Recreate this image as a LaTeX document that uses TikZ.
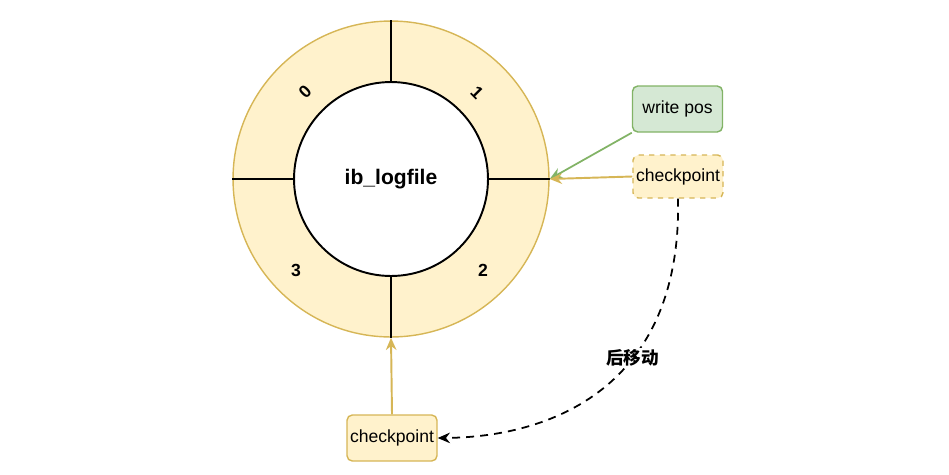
\documentclass[tikz,border=0pt]{standalone}
\usepackage{fontspec}
\setmainfont{Liberation Sans}
\newfontfamily\cjk{Noto Sans CJK SC}
\usetikzlibrary{positioning, arrows.meta, calc}
\definecolor{ringfill}{HTML}{FFF2CC}
\definecolor{ringline}{HTML}{D6B656}
\definecolor{posfill}{HTML}{D5E8D4}
\definecolor{posline}{HTML}{82B366}

\begin{document}
\begin{tikzpicture}[x=0.02cm, y=-0.02cm, font=\fontsize{10}{12}\selectfont,
    box/.style={draw=ringline, fill=ringfill, rounded corners=3pt, line width=0.8pt,
        minimum width=1.8cm, minimum height=0.9cm, inner sep=1pt},
    num/.style={font=\fontsize{10}{12}\selectfont\bfseries},
    tip/.style={-{Stealth[length=7pt, width=6pt]}}]
    \useasboundingbox (0,0) rectangle (949,474);
    \node[circle, draw=ringline, fill=ringfill, line width=0.8pt, minimum size=6.32cm] (ring) at (391,179) {};
    \node[circle, draw, fill=white, line width=1.1pt, minimum size=3.88cm,
        font=\fontsize{12}{14}\selectfont\bfseries] (log) at (391,179) {ib\_logfile};
    \foreach \a in {0,90,180,270} \draw[line width=0.9pt] (log.\a) -- (ring.\a);
    \node[num, rotate=45] (n0) at (305,92) {0};
    \node[num, rotate=-45] (n1) at (477,93) {1};
    \node[num] (n2) at (483,270) {2};
    \node[num] (n3) at (296,270) {3};
    \node[box, draw=posline, fill=posfill, minimum height=0.92cm] (pos) at (677.5,109) {write pos};
    \node[box, dashed, minimum height=0.86cm] (cp) at (678,176.5) {checkpoint};
    \node[box, minimum height=0.92cm] (cpold) at (392,438) {checkpoint};
    \draw[posline, line width=1pt, tip] (pos.south west) -- (ring.east);
    \draw[ringline, line width=1.1pt, tip] (cp.west) -- (ring.east);
    \draw[ringline, line width=1.1pt, tip] (cpold.north) -- (ring.south);
    \draw[line width=1pt, dash pattern=on 4.5pt off 3.5pt, tip]
        (cp.south) .. controls (682,380) and (560,437) .. (cpold.east)
        node[pos=0.39, fill=white, inner sep=1pt, font=\cjk\bfseries\fontsize{10}{12}\selectfont] (move) {后移动};
\end{tikzpicture}
\end{document}
